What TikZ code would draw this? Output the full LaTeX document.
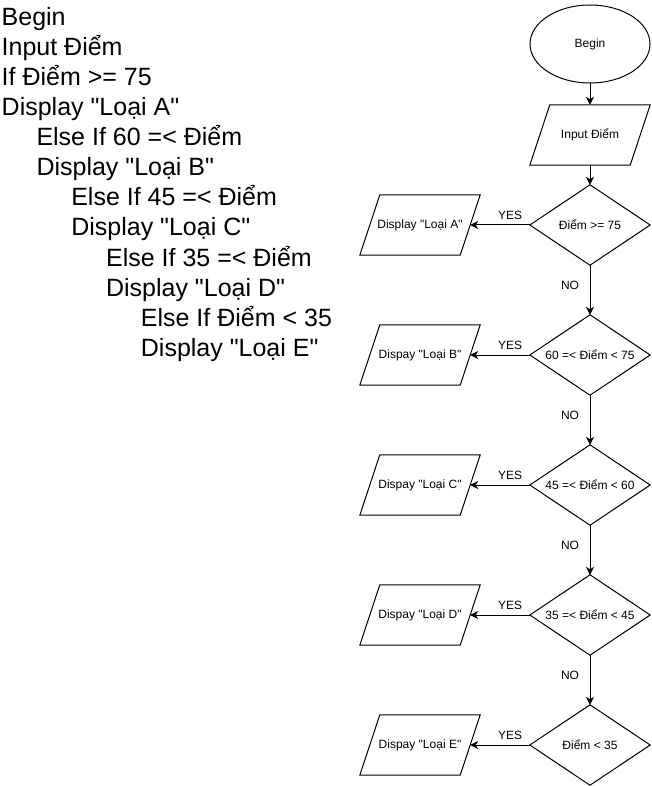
\documentclass[tikz,border=0pt]{standalone}
\usepackage{fontspec}
\setmainfont{Liberation Sans}[Ligatures=TeXOff]
\usetikzlibrary{arrows.meta,shapes.geometric}
\newcommand\ioshape[1]{\draw[line width=1pt] ([xshift=-10pt]#1.south west) -- ([xshift=10pt]#1.north west) -- ([xshift=10pt]#1.north east) -- ([xshift=-10pt]#1.south east) -- cycle;}
\newcommand\decshape[1]{\draw[line width=1pt] (#1.north) -- (#1.east) -- (#1.south) -- (#1.west) -- cycle;}
\begin{document}
\begin{tikzpicture}[x=1pt,y=-1pt,
  code/.style={anchor=base west, inner sep=0pt, font=\fontsize{25}{30}\selectfont},
  small/.style={font=\fontsize{12}{14}\selectfont},
  term/.style={ellipse, draw, line width=1pt, minimum width=120pt, minimum height=78pt, inner sep=0pt, small},
  iobox/.style={rectangle, minimum width=100pt, minimum height=60pt, inner sep=0pt, small},
  decbox/.style={rectangle, minimum width=120pt, minimum height=80pt, inner sep=0pt, small},
  lbl/.style={inner sep=0pt, small},
  conn/.style={line width=1pt, -{Stealth[length=8pt,width=8pt,inset=2.5pt]}}
]
\useasboundingbox (0,0) rectangle (651,786);
% pseudo-code
\node[code] (c1) at (1.5,26) {Begin};
\node[code] (c2) at (1.5,56) {Input Điểm};
\node[code] (c3) at (1.5,86) {If Điểm >= 75};
\node[code] (c4) at (1.5,116) {Display "Loại A"};
\node[code] (c5) at (36.3,146) {Else If 60 =< Điểm};
\node[code] (c6) at (36.3,176) {Display "Loại B"};
\node[code] (c7) at (71.1,206) {Else If 45 =< Điểm};
\node[code] (c8) at (71.1,236) {Display "Loại C"};
\node[code] (c9) at (105.9,266) {Else If 35 =< Điểm};
\node[code] (c10) at (105.9,296) {Display "Loại D"};
\node[code] (c11) at (140.7,326) {Else If Điểm < 35};
\node[code] (c12) at (140.7,356) {Display "Loại E"};
% flowchart
\node[term] (begin) at (590,44) {Begin};
\node[iobox] (inp) at (590,135) {Input Điểm}; \ioshape{inp}
\node[decbox] (d1) at (590,225) {Điểm >= 75}; \decshape{d1}
\node[decbox] (d2) at (590,355) {60 =< Điểm < 75}; \decshape{d2}
\node[decbox] (d3) at (590,485) {45 =< Điểm < 60}; \decshape{d3}
\node[decbox] (d4) at (590,615) {35 =< Điểm < 45}; \decshape{d4}
\node[decbox] (d5) at (590,745) {Điểm < 35}; \decshape{d5}
\node[iobox] (oa) at (420,225) {Display "Loại A"}; \ioshape{oa}
\node[iobox] (ob) at (420,355) {Dispay "Loại B"}; \ioshape{ob}
\node[iobox] (oc) at (420,485) {Dispay "Loại C"}; \ioshape{oc}
\node[iobox] (od) at (420,615) {Dispay "Loại D"}; \ioshape{od}
\node[iobox] (oe) at (420,745) {Dispay "Loại E"}; \ioshape{oe}
\draw[conn] (begin.south) -- (inp.north);
\draw[conn] (inp.south) -- (d1.north);
\draw[conn] (d1.south) -- (d2.north);
\draw[conn] (d2.south) -- (d3.north);
\draw[conn] (d3.south) -- (d4.north);
\draw[conn] (d4.south) -- (d5.north);
\draw[conn] (d1.west) -- (oa.east);
\draw[conn] (d2.west) -- (ob.east);
\draw[conn] (d3.west) -- (oc.east);
\draw[conn] (d4.west) -- (od.east);
\draw[conn] (d5.west) -- (oe.east);
\node[lbl] (y1) at (510,215) {YES};
\node[lbl] (y2) at (510,345) {YES};
\node[lbl] (y3) at (510,475) {YES};
\node[lbl] (y4) at (510,605) {YES};
\node[lbl] (y5) at (510,735) {YES};
\node[lbl] (n1) at (570,285) {NO};
\node[lbl] (n2) at (570,415) {NO};
\node[lbl] (n3) at (570,545) {NO};
\node[lbl] (n4) at (570,675) {NO};
\end{tikzpicture}
\end{document}
